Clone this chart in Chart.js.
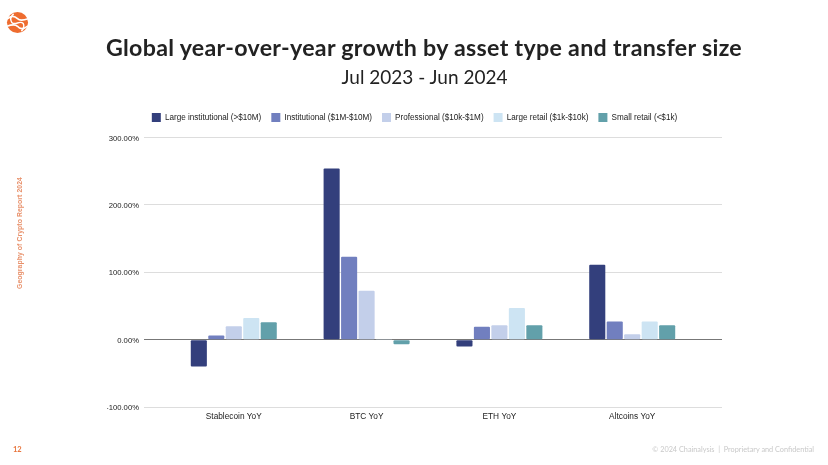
<!DOCTYPE html>
<html><head><meta charset="utf-8">
<script src="https://cdn.jsdelivr.net/npm/chart.js@4"></script>
<style>
html,body{margin:0;padding:0;background:#fff;width:828px;height:465px;overflow:hidden}
#wrap{position:absolute;left:0;top:0;width:828px;height:465px}
canvas{display:block}
.t{position:absolute;white-space:nowrap}
#title{left:424px;top:47px;transform:translate(-50%,-50%);font:bold 23.2px Lato,sans-serif;letter-spacing:.3px;color:#222}
#sub{left:424.5px;top:76px;transform:translate(-50%,-50%);font:19px Lato,sans-serif;color:#222}
#side{left:19px;top:233px;font:bold 6.8px "Liberation Sans",Arial,sans-serif;color:#e8906a;transform:translate(-50%,-50%) rotate(-90deg);letter-spacing:.1px}
#pg{left:13px;top:445px;font:bold 7.5px Lato,sans-serif;color:#e8743b}
#foot{right:14px;top:445px;font:7.3px Lato,sans-serif;color:#c9c9c9}
#logo{position:absolute;left:6px;top:11px;width:23px;height:23px}
</style></head><body>
<div id="wrap"><canvas id="c" width="828" height="465"></canvas>
<svg id="logo" viewBox="0 0 24 24"><circle cx="12" cy="12" r="11" fill="#ee6c2f"/><path d="M1 8.5 Q7 3 12 8 Q15 11 23 8 M1 16 Q9 13 12 16 Q16 21 23 15.5" fill="none" stroke="#fff" stroke-width="1.7"/><path d="M8 3 Q3 7 6 12 Q8 14 12 12.5 Q16 11 18 13 Q20 17 16 21" fill="none" stroke="#fff" stroke-width="1.5"/></svg>
<div class="t" id="title">Global year-over-year growth by asset type and transfer size</div>
<div class="t" id="sub">Jul 2023 - Jun 2024</div>
<div class="t" id="side">Geography of Crypto Report 2024</div>
<div class="t" id="pg">12</div>
<div class="t" id="foot">© 2024 Chainalysis &nbsp;|&nbsp; Proprietary and Confidential</div>
</div>
<script>
const categories=["Stablecoin YoY","BTC YoY","ETH YoY","Altcoins YoY"];
const largeInstitutional=[-40,254,-10,111];
const institutional=[6,123,19,27];
const professional=[20,72.5,21.5,8];
const largeRetail=[32,1,47,27];
const smallRetail=[26,-7,21.5,21.5];
const seriesNames=["Large institutional (>$10M)","Institutional ($1M-$10M)","Professional ($10k-$1M)","Large retail ($1k-$10k)","Small retail (<$1k)"];
const seriesColors=["#333f7c","#717fbf","#c3cfea","#cde4f3","#62a0aa"];
const yTicks=[-100,0,100,200,300];

class PaddedCategory extends Chart.CategoryScale{
  static id='paddedCategory';
  static defaults=Chart.CategoryScale.defaults;
  configure(){super.configure();const pad=0.176;this._startValue=this.min-0.5-pad;this._valueRange=this.max-this.min+1+2*pad;}
}
Chart.register(PaddedCategory);
const font="'Liberation Sans',Arial,sans-serif";
const all=[largeInstitutional,institutional,professional,largeRetail,smallRetail];
const legendGap={id:'legendGap',beforeInit(chart){const f=chart.legend.fit;chart.legend.fit=function(){f.call(this);this.height+=5.5;};}};
new Chart(document.getElementById('c'),{
  type:'bar',
  plugins:[legendGap],
  data:{labels:categories,datasets:all.map((d,i)=>({label:seriesNames[i],data:d,backgroundColor:seriesColors[i],borderWidth:0,borderRadius:1,borderSkipped:false,categoryPercentage:0.658,barPercentage:0.92}))},
  options:{
    responsive:false,animation:false,
    layout:{padding:{left:107,right:106,top:103,bottom:38}},
    plugins:{
      legend:{display:true,position:'top',align:'center',labels:{boxWidth:9,boxHeight:9,padding:10,color:'#222',font:{family:font,size:8.15}}},
      tooltip:{enabled:false}
    },
    scales:{
      x:{type:'paddedCategory',grid:{display:false,drawTicks:false},border:{display:false},ticks:{color:'#222',font:{family:font,size:8.3},padding:5,maxRotation:0}},
      y:{min:-100,max:300,afterBuildTicks(s){s.ticks=yTicks.map(v=>({value:v}));},afterFit(s){s.width=37;},
        grid:{color:c=>c.tick.value===0?'#777':'#ddd',lineWidth:1,drawTicks:false},border:{display:false},
        ticks:{color:'#222',padding:5,labelOffset:1,font:{family:font,size:7.7},callback:v=>v.toFixed(2)+'%'}}
    }
  }
});
</script></body></html>
